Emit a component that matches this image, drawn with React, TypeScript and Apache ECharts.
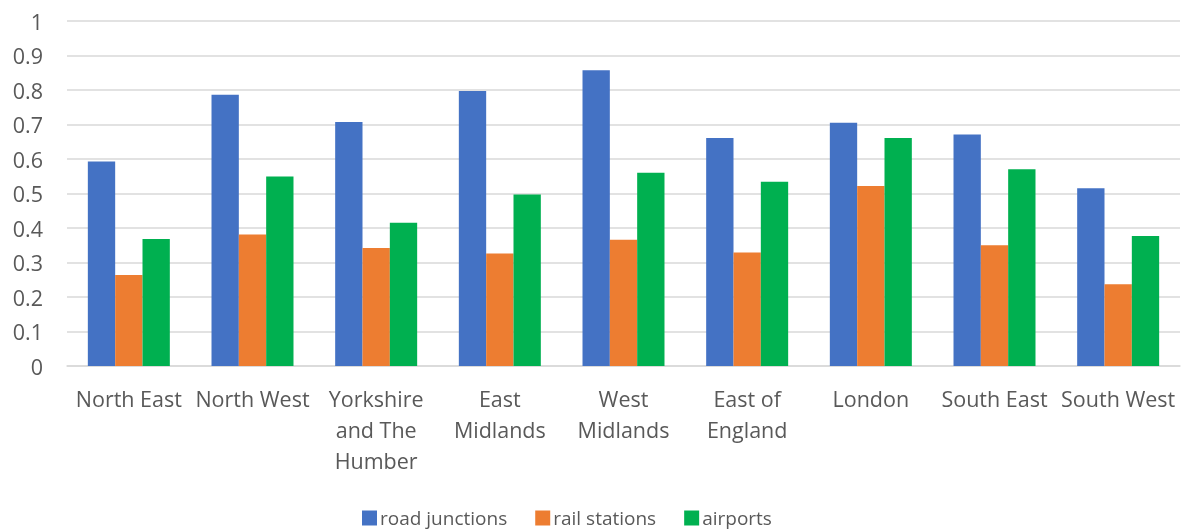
import React, { useEffect, useRef } from "react";
import * as echarts from "echarts";

const categories = [
  "North East",
  "North West",
  "Yorkshire\nand The\nHumber",
  "East\nMidlands",
  "West\nMidlands",
  "East of\nEngland",
  "London",
  "South East",
  "South West",
];
const roadJunctions = [0.593, 0.786, 0.707, 0.797, 0.857, 0.661, 0.705, 0.671, 0.515];
const railStations = [0.264, 0.381, 0.342, 0.326, 0.366, 0.329, 0.522, 0.35, 0.237];
const airports = [0.368, 0.549, 0.415, 0.497, 0.56, 0.534, 0.661, 0.57, 0.377];
const seriesNames = ["road junctions", "rail stations", "airports"];
const colors = ["#4472C4", "#ED7D31", "#00B050"];

export default function App() {
  const ref = useRef<HTMLDivElement>(null);
  useEffect(() => {
    if (!ref.current) return;
    const chart = echarts.init(ref.current, undefined, { renderer: "svg" });
    const font = "'Open Sans', 'Noto Sans', sans-serif";
    const data = [roadJunctions, railStations, airports];
    chart.setOption({
      animation: false,
      color: colors,
      textStyle: { fontFamily: font },
      grid: { left: 67, right: 7, top: 21, bottom: 166, containLabel: false },
      legend: {
        left: 357,
        top: 505,
        padding: [2, 5, 2, 5],
        itemWidth: 15,
        itemHeight: 15,
        itemGap: 28,
        icon: "rect",
        textStyle: {
          fontSize: 19,
          lineHeight: 22,
          color: "#595959",
          fontFamily: font,
          padding: [0, 0, 0, -2],
        },
        data: seriesNames,
      },
      xAxis: {
        type: "category",
        data: categories,
        axisLine: { show: true, lineStyle: { color: "#D9D9D9", width: 1.5 } },
        axisTick: { show: false },
        axisLabel: {
          color: "#595959",
          fontSize: 21.5,
          lineHeight: 31,
          margin: 17,
          interval: 0,
          fontFamily: font,
        },
      },
      yAxis: {
        type: "value",
        min: 0,
        max: 1,
        interval: 0.1,
        axisLine: { show: false },
        axisTick: { show: false },
        splitLine: { lineStyle: { color: "#D9D9D9", width: 1.5 } },
        axisLabel: {
          color: "#595959",
          fontSize: 21.5,
          margin: 24,
          fontFamily: font,
          formatter: (v: number) => String(Math.round(v * 10) / 10),
        },
      },
      series: seriesNames.map((name, i) => ({
        name,
        type: "bar",
        data: data[i],
        barGap: "0%",
        barCategoryGap: "33.7%",
        itemStyle: { color: colors[i] },
      })),
    });
    return () => chart.dispose();
  }, []);
  return (
    <div
      ref={ref}
      style={{ position: "fixed", left: 0, top: 0, width: 1187, height: 532 }}
    />
  );
}
